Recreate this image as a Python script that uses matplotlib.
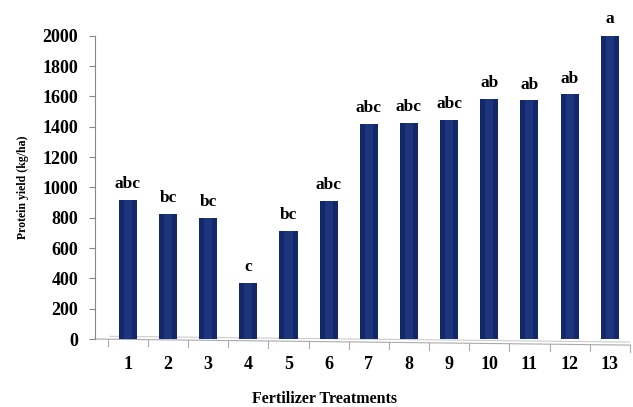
import numpy as np
import matplotlib
matplotlib.use('Agg')
import matplotlib.pyplot as plt

# data
treatments = ['1', '2', '3', '4', '5', '6', '7', '8', '9', '10', '11', '12', '13']
protein_yield = [920, 825, 800, 370, 715, 912, 1420, 1425, 1445, 1585, 1575, 1615, 2010]
letters = ['abc', 'bc', 'bc', 'c', 'bc', 'abc', 'abc', 'abc', 'abc', 'ab', 'ab', 'ab', 'a']

plt.rcParams['font.family'] = ['Liberation Serif', 'DejaVu Serif']
plt.rcParams['font.weight'] = 'bold'

fig = plt.figure(figsize=(6.33, 4.07), dpi=100)
ax = fig.add_axes([0.150, 0.167, 0.845, 0.745])

x = np.arange(1, len(treatments) + 1)
ax.bar(x, protein_yield, width=0.45, color='#13286b', zorder=3)

# lighter highlight down the middle of each bar
ax.bar(x, protein_yield, width=0.2, color='#2b4592', alpha=0.45, zorder=4)

for xi, v, lab in zip(x, protein_yield, letters):
    ax.text(xi, v + 50, lab, ha='center', va='bottom', fontsize=12.5,
            fontweight='bold', zorder=5)

ax.set_xlim(0.18, 13.5)
ax.set_ylim(0, 2000)
ax.set_yticks(np.arange(0, 2001, 200))
ax.tick_params(axis='y', labelsize=13, colors='black', length=4,
               color='#888888', pad=8)
for t in ax.get_yticklabels():
    t.set_fontweight('bold')

# sloped floor like the 3D excel chart
ax.plot([0.18, 13.5], [0, -40], color='#aaaaaa', lw=0.8, clip_on=False, zorder=2)
ax.plot([0.55, 13.5], [18, -20], color='#cccccc', lw=0.8, clip_on=False, zorder=2)
for xt in np.arange(0.5, 13.6, 1.0):
    yb = 0 - 40 * (xt - 0.18) / (13.5 - 0.18)
    ax.plot([xt, xt], [yb, yb - 45], color='#aaaaaa', lw=0.8, clip_on=False)

ax.set_xticks(x)
ax.set_xticklabels(treatments, fontsize=13, fontweight='bold')
ax.tick_params(axis='x', length=0, pad=12)

for s in ['top', 'right', 'bottom']:
    ax.spines[s].set_visible(False)
ax.spines['left'].set_color('#888888')

ax.set_ylabel('Protein yield (kg/ha)', fontsize=8.5, fontweight='bold', labelpad=10)
ax.set_xlabel('Fertilizer Treatments', fontsize=11.5, fontweight='bold')
ax.xaxis.set_label_coords(0.43, -0.172)

fig.savefig('out.png', dpi=100)
